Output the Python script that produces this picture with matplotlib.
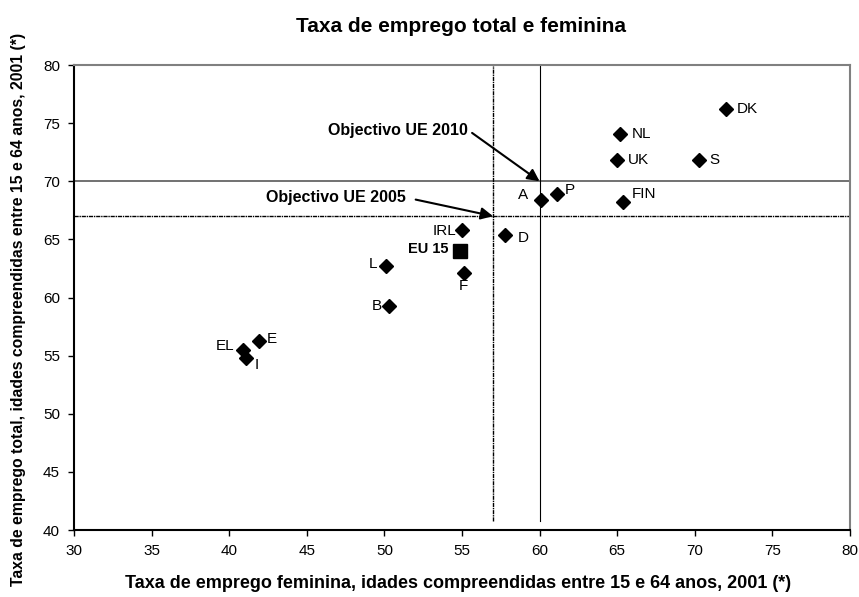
import matplotlib
matplotlib.use('Agg')
import matplotlib.pyplot as plt

# taxa de emprego feminina (x) e total (y), 2001
paises = ['DK', 'NL', 'UK', 'S', 'FIN', 'A', 'P', 'D', 'IRL', 'L', 'F', 'B', 'E', 'EL', 'I']
fem = [72.0, 65.2, 65.0, 70.3, 65.4, 60.1, 61.1, 57.8, 55.0, 50.1, 55.1, 50.3, 41.9, 40.9, 41.1]
tot = [76.2, 74.1, 71.8, 71.8, 68.2, 68.4, 68.9, 65.4, 65.8, 62.7, 62.1, 59.3, 56.3, 55.5, 54.8]
eu15 = (54.9, 64.0)
obj2005 = (57, 67)
obj2010 = (60, 70)

# posicao dos rotulos (offset em pontos)
offs = {'DK': (8, 0, 'left', 'center'), 'NL': (8, 0, 'left', 'center'),
        'UK': (8, 0, 'left', 'center'), 'S': (7.5, 0, 'left', 'center'),
        'FIN': (6, 6, 'left', 'center'), 'A': (-9.5, 3.5, 'right', 'center'),
        'P': (6, 3, 'left', 'center'), 'D': (9, -2, 'left', 'center'),
        'IRL': (-4, -1, 'right', 'center'), 'L': (-6.5, 1.5, 'right', 'center'),
        'F': (0, -4, 'center', 'top'), 'B': (-5.5, 0, 'right', 'center'),
        'E': (6, 1, 'left', 'center'), 'EL': (-6.5, 3, 'right', 'center'),
        'I': (6, -5, 'left', 'center')}

plt.rcParams['font.family'] = ['Liberation Sans', 'DejaVu Sans']

fig = plt.figure(figsize=(8.59, 5.97), dpi=100, facecolor='w')
ax = fig.add_axes([0.0861, 0.1122, 0.9034, 0.7789])

ax.plot(fem, tot, 'D', color='k', ms=7, zorder=5)
ax.plot([eu15[0]], [eu15[1]], 's', color='k', ms=9.5, zorder=5)

for p, x, y in zip(paises, fem, tot):
    dx, dy, ha, va = offs[p]
    ax.annotate(p, (x, y), xytext=(dx, dy), textcoords='offset points',
                ha=ha, va=va, fontsize=11)
ax.annotate('EU 15', eu15, xytext=(-8.5, 1.5), textcoords='offset points',
            ha='right', va='center', fontsize=10.5, fontweight='bold')

# linhas dos objectivos
ax.axhline(obj2010[1], color='#666666', lw=1.3, zorder=1)
ax.axvline(obj2010[0], ymin=0.02, ymax=1.0, color='k', lw=0.8, zorder=1)
ax.axhline(obj2005[1], color='k', lw=1.0, ls=(0, (3, 0.6, 1, 0.6)), zorder=1)
ax.axvline(obj2005[0], ymin=0.02, ymax=1.0, color='k', lw=1.0, ls=(0, (3, 0.6, 1, 0.6)), zorder=1)

ax.annotate('Objectivo UE 2010', xy=obj2010, xytext=(55.4, 74.4),
            ha='right', va='center', fontsize=11.5, fontweight='bold',
            arrowprops=dict(arrowstyle='-|>', color='k', lw=1.5, mutation_scale=18,
                            relpos=(1, 0.5), shrinkA=1, shrinkB=0))
ax.annotate('Objectivo UE 2005', xy=obj2005, xytext=(51.4, 68.6),
            ha='right', va='center', fontsize=11.5, fontweight='bold',
            arrowprops=dict(arrowstyle='-|>', color='k', lw=1.5, mutation_scale=18,
                            relpos=(1, 0.5), shrinkA=5, shrinkB=0))

ax.set_xlim(30, 80)
ax.set_ylim(40, 80)
ax.set_xticks(range(30, 81, 5))
ax.set_yticks(range(40, 81, 5))
ax.tick_params(direction='out', length=4, width=1, labelsize=11, pad=6)
for s in ['top', 'right']:
    ax.spines[s].set_color('#808080')
    ax.spines[s].set_linewidth(1.5)
for s in ['left', 'bottom']:
    ax.spines[s].set_color('k')
    ax.spines[s].set_linewidth(1.5)

fig.text(0.537, 0.956, 'Taxa de emprego total e feminina', ha='center', va='center',
         fontsize=15, fontweight='bold')
ax.set_xlabel('Taxa de emprego feminina, idades compreendidas entre 15 e 64 anos, 2001 (*)',
              fontsize=13, fontweight='bold')
ax.xaxis.set_label_coords(0.495, -0.114)
ax.xaxis.label.set_va('center')
ax.set_ylabel('Taxa de emprego total, idades compreendidas entre 15 e 64 anos, 2001 (*)',
              fontsize=11.3, fontweight='bold')
ax.yaxis.set_label_coords(-0.072, 0.475)
ax.yaxis.label.set_va('center')

fig.savefig('out.png', dpi=100)
